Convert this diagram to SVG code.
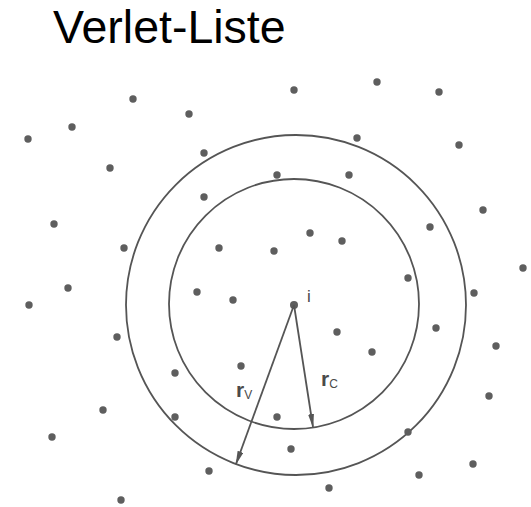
<svg xmlns="http://www.w3.org/2000/svg" width="531" height="507" viewBox="0 0 531 507">
<defs>
<style>
.d{fill:#5e5e5e}
.ring{fill:none;stroke:#555;stroke-width:1.8}
.arr{stroke:#555;stroke-width:1.8;fill:none;marker-end:url(#ah)}
.lbl{font-family:"Liberation Sans",Arial,sans-serif;fill:#4a4a4a}
</style>
<marker id="ah" viewBox="0 0 14 6" refX="13" refY="3" markerWidth="14" markerHeight="6" markerUnits="userSpaceOnUse" orient="auto">
<path d="M0,0 L14,3 L0,6 Z" fill="#555"/>
</marker>
</defs>
<rect width="531" height="507" fill="#fff"/>
<text x="53" y="43" font-family="'Liberation Sans',Arial,sans-serif" font-size="46.5" fill="#000">Verlet-Liste</text>
<g id="rings">
<circle class="ring" cx="296" cy="305" r="170"/>
<circle class="ring" cx="294" cy="304" r="125"/>
</g>
<g id="particles">
<circle class="d" cx="133" cy="99" r="3.7"/>
<circle class="d" cx="189" cy="114" r="3.7"/>
<circle class="d" cx="72" cy="127" r="3.7"/>
<circle class="d" cx="28" cy="139" r="3.7"/>
<circle class="d" cx="294" cy="90" r="3.7"/>
<circle class="d" cx="377" cy="82" r="3.7"/>
<circle class="d" cx="439" cy="92" r="3.7"/>
<circle class="d" cx="357" cy="138" r="3.7"/>
<circle class="d" cx="459" cy="145" r="3.7"/>
<circle class="d" cx="204" cy="153" r="3.7"/>
<circle class="d" cx="110" cy="168" r="3.7"/>
<circle class="d" cx="277" cy="175" r="3.7"/>
<circle class="d" cx="349" cy="175" r="3.7"/>
<circle class="d" cx="204" cy="197" r="3.7"/>
<circle class="d" cx="54" cy="224" r="3.7"/>
<circle class="d" cx="483" cy="210" r="3.7"/>
<circle class="d" cx="430" cy="227" r="3.7"/>
<circle class="d" cx="124" cy="248" r="3.7"/>
<circle class="d" cx="219" cy="248" r="3.7"/>
<circle class="d" cx="274" cy="251" r="3.7"/>
<circle class="d" cx="310" cy="233" r="3.7"/>
<circle class="d" cx="342" cy="241" r="3.7"/>
<circle class="d" cx="408" cy="278" r="3.7"/>
<circle class="d" cx="523" cy="268" r="3.7"/>
<circle class="d" cx="68" cy="288" r="3.7"/>
<circle class="d" cx="29" cy="305" r="3.7"/>
<circle class="d" cx="197" cy="292" r="3.7"/>
<circle class="d" cx="233" cy="300" r="3.7"/>
<circle class="d" cx="474" cy="293" r="3.7"/>
<circle class="d" cx="337" cy="332" r="3.7"/>
<circle class="d" cx="436" cy="328" r="3.7"/>
<circle class="d" cx="117" cy="337" r="3.7"/>
<circle class="d" cx="496" cy="346" r="3.7"/>
<circle class="d" cx="372" cy="352" r="3.7"/>
<circle class="d" cx="241" cy="366" r="3.7"/>
<circle class="d" cx="175" cy="373" r="3.7"/>
<circle class="d" cx="489" cy="396" r="3.7"/>
<circle class="d" cx="103" cy="410" r="3.7"/>
<circle class="d" cx="175" cy="417" r="3.7"/>
<circle class="d" cx="277" cy="417" r="3.7"/>
<circle class="d" cx="408" cy="432" r="3.7"/>
<circle class="d" cx="52" cy="437" r="3.7"/>
<circle class="d" cx="291" cy="449" r="3.7"/>
<circle class="d" cx="473" cy="464" r="3.7"/>
<circle class="d" cx="209" cy="471" r="3.7"/>
<circle class="d" cx="419" cy="475" r="3.7"/>
<circle class="d" cx="329" cy="488" r="3.7"/>
<circle class="d" cx="121" cy="500" r="3.7"/>
</g>
<g id="center-i">
<circle class="d" cx="294" cy="305" r="4"/>
<text class="lbl" x="307" y="302" font-size="17">i</text>
</g>
<g id="connectors">
<line class="arr" x1="294" y1="305" x2="236" y2="464"/>
<line class="arr" x1="294" y1="305" x2="313" y2="427"/>
</g>
<g id="label-rv">
<text class="lbl" x="236" y="397" font-size="21" font-weight="bold">r<tspan font-size="12" font-weight="normal" dy="2">V</tspan></text>
</g>
<g id="label-rc">
<text class="lbl" x="321" y="386" font-size="21" font-weight="bold">r<tspan font-size="12" font-weight="normal" dy="2">C</tspan></text>
</g>
</svg>
